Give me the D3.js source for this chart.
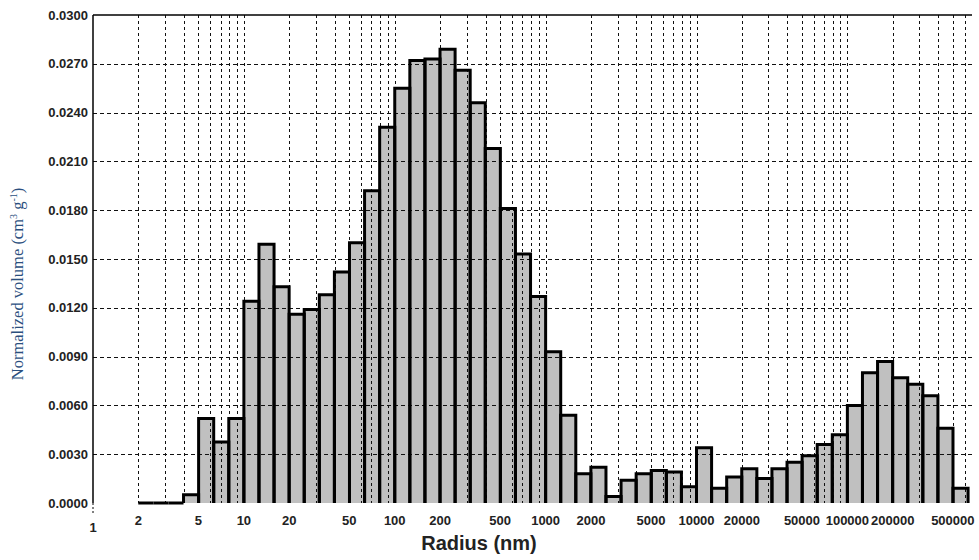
<html>
<head>
<script src="https://d3js.org/d3.v7.min.js"></script>
<style>
  body { margin: 0; background: #fff; }
  .tick-label { font-family: "Liberation Sans", Arial, sans-serif; font-weight: bold; font-size: 13px; fill: #222; }
</style>
</head>
<body>
<svg id="chart"></svg>
<script>
// lower edge of each bin, as log10(radius / nm)
var binStartLog = [0.3, 0.4, 0.5, 0.6, 0.7, 0.8, 0.9,
  1.0, 1.1, 1.2, 1.3, 1.4, 1.5, 1.6, 1.7, 1.8, 1.9,
  2.0, 2.1, 2.2, 2.3, 2.4, 2.5, 2.6, 2.7, 2.8, 2.9,
  3.0, 3.1, 3.2, 3.3, 3.4, 3.5, 3.6, 3.7, 3.8, 3.9,
  4.0, 4.1, 4.2, 4.3, 4.4, 4.5, 4.6, 4.7, 4.8, 4.9,
  5.0, 5.1, 5.2, 5.3, 5.4, 5.5, 5.6, 5.7];
var binWidthLog = 0.1;

// normalized volume (cm3 g-1)
var volume = [0, 0, 0, 0.0005, 0.0052, 0.00375, 0.0052,
  0.0124, 0.0159, 0.0133, 0.0116, 0.0119, 0.0128, 0.0142, 0.0160, 0.0192, 0.0231,
  0.0255, 0.0272, 0.0273, 0.0279, 0.0266, 0.0246, 0.0218, 0.0181, 0.0153, 0.0127,
  0.0093, 0.0054, 0.0018, 0.0022, 0.0004, 0.0014, 0.0018, 0.0020, 0.0019, 0.0010,
  0.0034, 0.0009, 0.0016, 0.0021, 0.0015, 0.0021, 0.0025, 0.0029, 0.0036, 0.0042,
  0.0060, 0.0080, 0.0087, 0.0077, 0.0073, 0.0066, 0.0046, 0.0009];

var yTicks = [0, 0.003, 0.006, 0.009, 0.012, 0.015, 0.018, 0.021, 0.024, 0.027, 0.030];
var xLabels = [2, 5, 10, 20, 50, 100, 200, 500, 1000, 2000, 5000, 10000, 20000, 50000, 100000, 200000, 500000];
var xGrid = [2,3,4,5,6,7,8,9,10,20,30,40,50,60,70,80,90,100,200,300,400,500,600,700,800,900,
  1000,2000,3000,4000,5000,6000,7000,8000,9000,10000,20000,30000,40000,50000,60000,70000,80000,90000,
  100000,200000,300000,400000,500000,600000];

var width = 979, height = 560;
var svg = d3.select("#chart").attr("width", width).attr("height", height);

var plotLeft = 93, plotRight = 972, plotTop = 15, plotBottom = 503;

var x = d3.scaleLog().domain([1, Math.pow(10, 5.826)]).range([plotLeft, plotRight]);
var y = d3.scaleLinear().domain([0, 0.03]).range([plotBottom, plotTop]);

var bins = binStartLog.map(function(s, i) {
  return { x0: Math.pow(10, s), x1: Math.pow(10, s + binWidthLog), v: volume[i] };
});

var barPath = function(d) {
  return "M" + x(d.x0) + "," + y(0) + "V" + y(d.v) + "H" + x(d.x1) + "V" + y(0);
};

// bar fills
svg.append("g").selectAll("rect")
  .data(bins.filter(function(d) { return d.v > 0; }))
  .enter().append("rect")
  .attr("x", function(d) { return x(d.x0); })
  .attr("y", function(d) { return y(d.v); })
  .attr("width", function(d) { return x(d.x1) - x(d.x0); })
  .attr("height", function(d) { return y(0) - y(d.v); })
  .attr("fill", "#c0c0c0");

// grid
svg.append("g").selectAll("line")
  .data(yTicks.slice(1, -1))
  .enter().append("line")
  .attr("x1", plotLeft).attr("x2", plotRight)
  .attr("y1", function(d) { return Math.round(y(d)) + 0.5; })
  .attr("y2", function(d) { return Math.round(y(d)) + 0.5; })
  .attr("stroke", "#111").attr("stroke-width", 1)
  .attr("stroke-dasharray", "4,3");

svg.append("g").selectAll("line")
  .data(xGrid)
  .enter().append("line")
  .attr("x1", function(d) { return Math.round(x(d)) + 0.5; })
  .attr("x2", function(d) { return Math.round(x(d)) + 0.5; })
  .attr("y1", plotTop).attr("y2", plotBottom)
  .attr("stroke", "#111").attr("stroke-width", 1)
  .attr("stroke-dasharray", "3,3");

// bar outlines
svg.append("g").selectAll("path")
  .data(bins)
  .enter().append("path")
  .attr("d", barPath)
  .attr("fill", "none")
  .attr("stroke", "#000")
  .attr("stroke-width", 3)
  .attr("stroke-linejoin", "miter");

// frame: left and top
svg.append("line").attr("x1", plotLeft).attr("x2", plotLeft).attr("y1", plotTop).attr("y2", plotBottom)
  .attr("stroke", "#000").attr("stroke-width", 1.5);
svg.append("line").attr("x1", plotLeft).attr("x2", plotRight).attr("y1", plotTop).attr("y2", plotTop)
  .attr("stroke", "#000").attr("stroke-width", 1.5);
svg.append("line").attr("x1", plotLeft).attr("x2", plotLeft).attr("y1", plotBottom).attr("y2", plotBottom + 12)
  .attr("stroke", "#000").attr("stroke-width", 1).attr("stroke-dasharray", "2,2");

// y tick labels
svg.append("g").selectAll("text")
  .data(yTicks)
  .enter().append("text")
  .attr("class", "tick-label")
  .attr("x", plotLeft - 5)
  .attr("y", function(d) { return y(d); })
  .attr("dy", "0.35em")
  .attr("text-anchor", "end")
  .text(function(d) { return d.toFixed(4); });

// x tick labels
svg.append("g").selectAll("text")
  .data(xLabels)
  .enter().append("text")
  .attr("class", "tick-label")
  .attr("x", function(d) { return x(d); })
  .attr("y", 525)
  .attr("text-anchor", "middle")
  .text(function(d) { return d; });

svg.append("text")
  .attr("class", "tick-label")
  .attr("x", x(1))
  .attr("y", 532)
  .attr("text-anchor", "middle")
  .text("1");

// axis titles
svg.append("text")
  .attr("x", 479).attr("y", 550)
  .attr("text-anchor", "middle")
  .style("font-family", "Liberation Sans, Arial, sans-serif")
  .style("font-weight", "bold")
  .style("font-size", "20px")
  .attr("fill", "#222")
  .text("Radius (nm)");

var yt = svg.append("text")
  .attr("transform", "translate(23,284) rotate(-90)")
  .attr("text-anchor", "middle")
  .style("font-family", "Liberation Serif, Times New Roman, serif")
  .style("font-size", "16.5px")
  .attr("fill", "#2b4f7e");
yt.append("tspan").text("Normalized volume (cm");
yt.append("tspan").attr("dy", -6).style("font-size", "10px").text("3");
yt.append("tspan").attr("dy", 6).text(" g");
yt.append("tspan").attr("dy", -6).style("font-size", "10px").text("-1");
yt.append("tspan").attr("dy", 6).text(")");
</script>
</body>
</html>
